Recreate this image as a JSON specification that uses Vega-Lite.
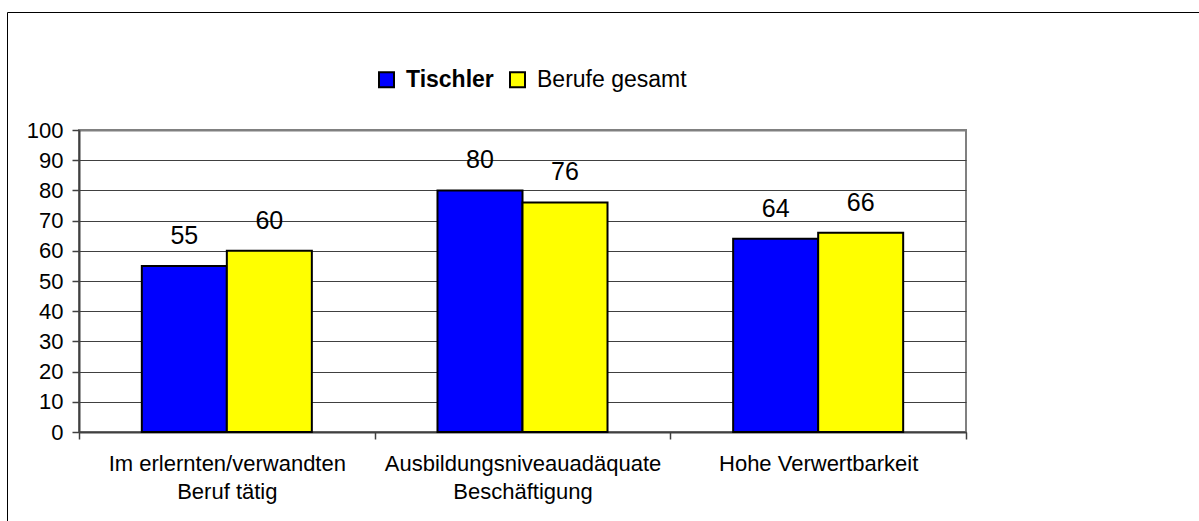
{
  "$schema": "https://vega.github.io/schema/vega-lite/v6.json",
  "autosize": {"type": "none"},
  "width": 887,
  "height": 302,
  "padding": {"left": 79, "top": 130, "right": 233, "bottom": 89},
  "background": "white",
  "data": {
    "values": [
      {"kategorie": "Im erlernten/verwandten Beruf tätig", "gruppe": "Tischler", "wert": 55},
      {"kategorie": "Im erlernten/verwandten Beruf tätig", "gruppe": "Berufe gesamt", "wert": 60},
      {"kategorie": "Ausbildungsniveauadäquate Beschäftigung", "gruppe": "Tischler", "wert": 80},
      {"kategorie": "Ausbildungsniveauadäquate Beschäftigung", "gruppe": "Berufe gesamt", "wert": 76},
      {"kategorie": "Hohe Verwertbarkeit", "gruppe": "Tischler", "wert": 64},
      {"kategorie": "Hohe Verwertbarkeit", "gruppe": "Berufe gesamt", "wert": 66}
    ]
  },
  "encoding": {
    "x": {
      "field": "kategorie",
      "type": "nominal",
      "sort": null,
      "scale": {"paddingInner": 0, "paddingOuter": 0},
      "axis": {
        "title": null,
        "labelAngle": 0,
        "labelFont": "Liberation Sans",
        "labelFontSize": 22,
        "labelColor": "black",
        "labelBaseline": "top",
        "labelLineHeight": 28,
        "labelLimit": 500,
        "labelPadding": 14,
        "labelExpr": "datum.label == 'Im erlernten/verwandten Beruf tätig' ? ['Im erlernten/verwandten', 'Beruf tätig'] : datum.label == 'Ausbildungsniveauadäquate Beschäftigung' ? ['Ausbildungsniveauadäquate', 'Beschäftigung'] : datum.label",
        "tickBand": "extent",
        "tickSize": 7,
        "tickColor": "#404040",
        "tickWidth": 1.5,
        "domainColor": "#404040",
        "domainWidth": 2,
        "grid": false
      }
    },
    "xOffset": {
      "field": "gruppe",
      "type": "nominal",
      "sort": ["Tischler", "Berufe gesamt"],
      "scale": {"paddingInner": 0, "paddingOuter": 0.739}
    },
    "y": {
      "field": "wert",
      "type": "quantitative",
      "scale": {"domain": [0, 100], "nice": false},
      "axis": {
        "title": null,
        "values": [0, 10, 20, 30, 40, 50, 60, 70, 80, 90, 100],
        "labelFont": "Liberation Sans",
        "labelFontSize": 22,
        "labelColor": "black",
        "labelPadding": 9,
        "tickSize": 7,
        "tickColor": "#404040",
        "tickWidth": 1.5,
        "domainColor": "#404040",
        "domainWidth": 2,
        "grid": true,
        "gridColor": {"condition": {"test": "datum.value == 100", "value": "#808080"}, "value": "#404040"},
        "gridWidth": {"condition": {"test": "datum.value == 100", "value": 2}, "value": 1}
      }
    }
  },
  "layer": [
    {
      "mark": {"type": "bar", "strokeWidth": 2},
      "encoding": {
        "color": {
          "field": "gruppe",
          "type": "nominal",
          "sort": ["Tischler", "Berufe gesamt"],
          "scale": {"domain": ["Tischler", "Berufe gesamt"], "range": ["#0000FF", "#FFFF00"]},
          "legend": {
            "title": null,
            "orient": "none",
            "direction": "horizontal",
            "legendX": 296,
            "legendY": -62,
            "symbolType": "square",
            "symbolSize": 225,
            "symbolStrokeColor": "black",
            "symbolStrokeWidth": 2,
            "symbolOpacity": 1,
            "labelFont": "Liberation Sans",
            "labelFontSize": 23,
            "labelColor": "black",
            "labelOffset": 8,
            "columnPadding": 12,
            "labelLimit": 400,
            "labelFontWeight": {"expr": "datum.label === 'Tischler' ? 'bold' : 'normal'"}
          }
        },
        "stroke": {
          "field": "wert",
          "type": "quantitative",
          "scale": {"range": ["black", "black"]},
          "legend": {
            "title": null,
            "orient": "none",
            "direction": "horizontal",
            "legendX": -72,
            "legendY": -118,
            "gradientLength": 1200,
            "gradientThickness": 520,
            "gradientOpacity": 0,
            "gradientStrokeWidth": 0,
            "labelExpr": "''",
            "labelOpacity": 0,
            "labelFontSize": 1,
            "tickCount": 2,
            "padding": 0,
            "strokeColor": "black"
          }
        }
      }
    },
    {
      "mark": {"type": "text", "baseline": "bottom", "dy": -17, "font": "Liberation Sans", "fontSize": 25, "color": "black"},
      "encoding": {
        "text": {"field": "wert", "type": "quantitative"}
      }
    }
  ],
  "config": {
    "view": {"stroke": "#808080", "strokeWidth": 2}
  }
}
